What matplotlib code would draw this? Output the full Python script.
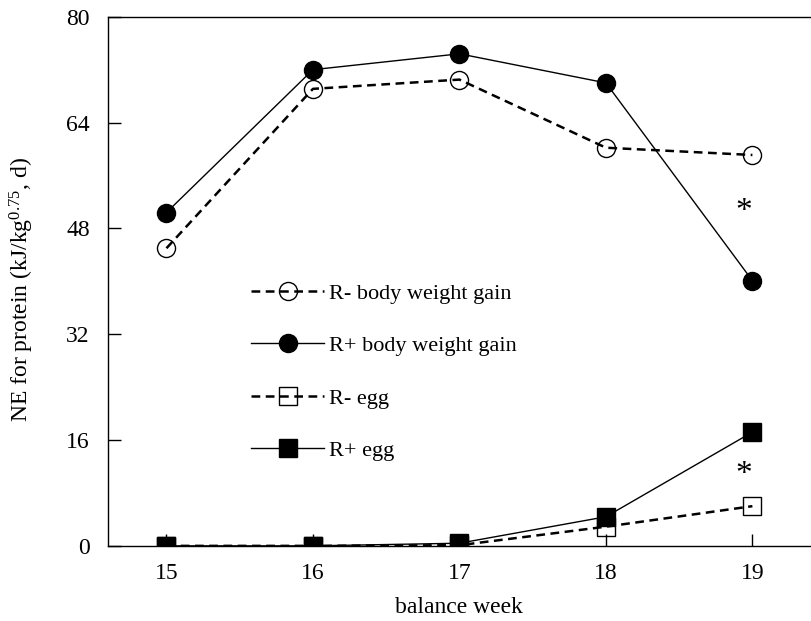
import matplotlib
matplotlib.use('Agg')
import matplotlib.pyplot as plt

plt.rcParams['font.family'] = 'Liberation Serif'
plt.rcParams['mathtext.fontset'] = 'custom'
plt.rcParams['mathtext.rm'] = 'Liberation Serif'
plt.rcParams['mathtext.it'] = 'Liberation Serif:italic'

weeks = [15, 16, 17, 18, 19]
rminus_body = [45.0, 69.1, 70.5, 60.2, 59.1]
rplus_body = [50.4, 72.0, 74.4, 70.0, 40.1]
rminus_egg = [0.0, 0.0, 0.1, 2.9, 6.0]
rplus_egg = [0.0, 0.0, 0.4, 4.4, 17.2]
yticks = [0, 16, 32, 48, 64, 80]

fig = plt.figure(figsize=(8.11, 6.21), dpi=100)
ax = fig.add_axes([0.133, 0.121, 0.867, 0.852])

ms = 13
dash = (3.5, 2.2)
ax.plot(weeks, rminus_body, '--', dashes=dash, color='black', lw=1.8, marker='o', ms=ms,
        mfc='none', mec='black', mew=1.0, label='R- body weight gain')
ax.plot(weeks, rplus_body, '-', color='black', lw=1.0, marker='o', ms=ms,
        mfc='black', mec='black', label='R+ body weight gain')
ax.plot(weeks, rminus_egg, '--', dashes=dash, color='black', lw=1.8, marker='s', ms=ms,
        mfc='none', mec='black', mew=1.0, label='R- egg')
ax.plot(weeks, rplus_egg, '-', color='black', lw=1.0, marker='s', ms=ms,
        mfc='black', mec='black', label='R+ egg')

ax.text(18.94, 50.5, '*', fontsize=24, ha='center', va='center')
ax.text(18.94, 10.8, '*', fontsize=24, ha='center', va='center')

ax.set_xlim(14.6, 19.4)
ax.set_ylim(0, 80)
ax.set_xticks(weeks)
ax.set_yticks(yticks)
ax.tick_params(direction='in', length=9, width=1, labelsize=17)
ax.tick_params(axis='x', pad=12)
ax.tick_params(axis='y', pad=13)
ax.spines['right'].set_visible(False)
for s in ['left', 'top', 'bottom']:
    ax.spines[s].set_linewidth(1.0)

ax.set_xlabel('balance week', fontsize=17, labelpad=10)
ax.set_ylabel('NE for protein (kJ/kg$^{0.75}$, d)', fontsize=17)
ax.yaxis.set_label_coords(-0.102, 0.485)

ax.legend(loc='upper left', bbox_to_anchor=(0.175, 0.534), frameon=False,
          fontsize=16, handlelength=3.3, labelspacing=1.43, handletextpad=0.2)

fig.savefig('out.png', dpi=100)
